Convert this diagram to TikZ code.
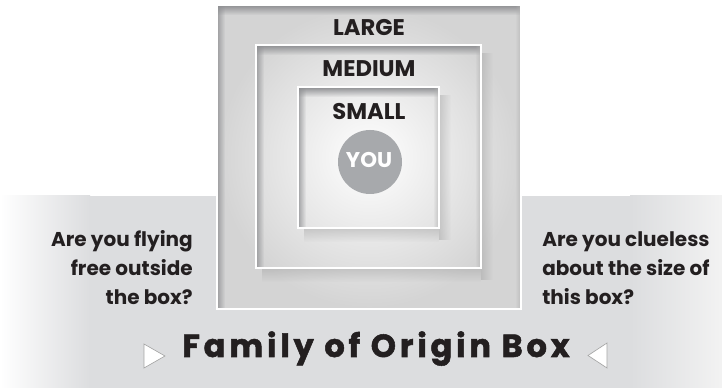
\documentclass[tikz,border=0pt]{standalone}
\usepackage{fontspec}
\setmainfont{Poppins}
\usetikzlibrary{fadings}
\definecolor{ink}{HTML}{231F20}
\definecolor{band}{HTML}{DCDDDF}
\definecolor{youdot}{HTML}{A7A9AC}
\definecolor{edge}{HTML}{8E8F92}
\begin{document}
\begin{tikzpicture}[
  x=0.75pt, y=-0.75pt,
  boxlabel/.style={font=\fontsize{17}{20}\selectfont\bfseries, text=ink, anchor=base, inner sep=0pt},
  qtext/.style={font=\fontsize{15}{21.75}\selectfont\bfseries, text=ink, inner sep=0pt},
  titletext/.style={font=\fontsize{24}{27}\selectfont\bfseries\addfontfeature{LetterSpace=12,FakeBold=1.6}, text=ink, anchor=base, inner sep=0pt},
  youdisc/.style={circle, fill=youdot, minimum size=48pt, inner sep=0pt},
  frame/.style={draw=white, line width=1.6pt},
  pointer/.style={fill=white, draw=gray!70, line width=0.5pt}
]
\useasboundingbox (0,0) rectangle (722,388);
% page: white top, grey band below
\fill[white] (0,0) rectangle (722,388);
\fill[band] (0,196) rectangle (722,388);
\shade[left color=white, right color=band] (0,196) rectangle (90,388);
\shade[left color=band, right color=gray!10] (630,196) rectangle (722,388);
% glow inside the large box
\shade[inner color=white, outer color=gray!34] (217,5) rectangle (521,309);
% drop shadows of the two inner boxes
\foreach \xa/\ya/\xb/\yb in {256/45/481/268, 298/87/439/228} {
  \fill[gray!70, opacity=0.5, path fading=south] (\xa+6,\yb) rectangle (\xb,\yb+14);
  \fill[gray!70, opacity=0.5, path fading=east] (\xb,\ya+8) rectangle (\xb+12,\yb+12);
}
% the three boxes, large to small
\foreach \xa/\ya/\xb/\yb in {217/5/521/309, 256/45/481/268, 298/87/439/228} {
  \fill[edge, path fading=south] (\xa,\ya) rectangle (\xb,\ya+10);
  \fill[edge, opacity=0.8, path fading=east] (\xa,\ya) rectangle (\xa+8,\yb);
  \fill[gray!60, opacity=0.7, path fading=west] (\xb-6,\ya) rectangle (\xb,\yb);
  \draw[frame] (\xa,\ya) rectangle (\xb,\yb);
}
% labels
\node[boxlabel] (large) at (369,36) {LARGE};
\node[boxlabel] (medium) at (369,77) {MEDIUM};
\node[boxlabel] (small) at (369,120) {SMALL};
\node[youdisc] (you) at (370,162) {};
\node[boxlabel, text=white, font=\fontsize{16}{18}\selectfont\bfseries] (youtxt) at (369,168) {YOU};
% questions
\node[qtext, anchor=east, align=right] (flying) at (193,268) {Are you flying\\free outside\\the box?};
\node[qtext, anchor=west, align=left] (clueless) at (542,268) {Are you clueless\\about the size of\\this box?};
% title
\node[titletext] (title) at (376,357) {Family of Origin Box};
\draw[pointer] (144,344) -- (144,368) -- (165,356) -- cycle;
\draw[pointer] (607,343) -- (607,368) -- (588,355.5) -- cycle;
\end{tikzpicture}
\end{document}
